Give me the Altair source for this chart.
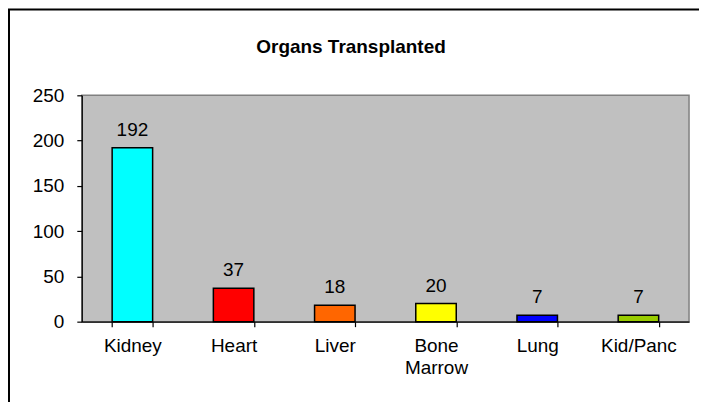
import altair as alt
import pandas as pd

organs = ["Kidney", "Heart", "Liver", "Bone Marrow", "Lung", "Kid/Panc"]
counts = [192, 37, 18, 20, 7, 7]
colors = ["#00FFFF", "#FF0000", "#FF6600", "#FFFF00", "#0000FF", "#99CC00"]
y_ticks = [0, 50, 100, 150, 200, 250]
title_text = "Organs Transplanted"

df = pd.DataFrame({"organ": organs, "count": counts})

FONT = "Liberation Sans"
FS = 19

x_enc = alt.X(
    "organ:N",
    sort=organs,
    scale=alt.Scale(paddingInner=0.6, paddingOuter=0.3),
    axis=alt.Axis(
        title=None, labelAngle=0, tickBand="extent",
        labelExpr="split(datum.label, ' ')",
        labelFontSize=FS, labelFont=FONT, labelColor="black",
        labelPadding=10, labelLineHeight=22,
        tickSize=5, tickColor="black", domainColor="black",
        domainWidth=1.2, tickWidth=1.2,
    ),
)
y_enc = alt.Y(
    "count:Q",
    scale=alt.Scale(domain=[0, 250], nice=False, zero=True),
    axis=alt.Axis(
        title=None, values=y_ticks, grid=False,
        labelFontSize=FS, labelFont=FONT, labelColor="black",
        labelPadding=13, tickSize=5, tickColor="black",
        domainColor="black", domainWidth=1.2, tickWidth=1.2,
    ),
)

base = alt.Chart(df)

bars = base.mark_bar(stroke="black", strokeWidth=1.5).encode(
    x=x_enc,
    y=y_enc,
    color=alt.Color("organ:N", scale=alt.Scale(domain=organs, range=colors), legend=None),
)

labels = base.mark_text(dy=-12, baseline="alphabetic", fontSize=FS, font=FONT, color="black").encode(
    x=x_enc,
    y=y_enc,
    text="count:Q",
)

title = alt.Chart(pd.DataFrame({"t": [title_text]})).mark_text(
    fontSize=FS, fontWeight="bold", font=FONT, color="black", baseline="alphabetic"
).encode(x=alt.value(270), y=alt.value(-42), text="t:N")

frame = alt.Chart(pd.DataFrame({"a": [0]})).mark_rect(
    fillOpacity=0, stroke="black", strokeWidth=2
).encode(x=alt.value(-73), x2=alt.value(720), y=alt.value(-86), y2=alt.value(420))

chart = alt.layer(bars, labels, title, frame).properties(
    width=609, height=227,
    autosize=alt.AutoSizeParams(type="none"),
    padding={"left": 74, "top": 87, "right": 10, "bottom": 80},
    background="white",
).configure_view(
    fill="#C0C0C0", stroke="#808080", strokeWidth=1.5
)

chart.save("out.html", embed_options={"renderer": "svg", "actions": False})
